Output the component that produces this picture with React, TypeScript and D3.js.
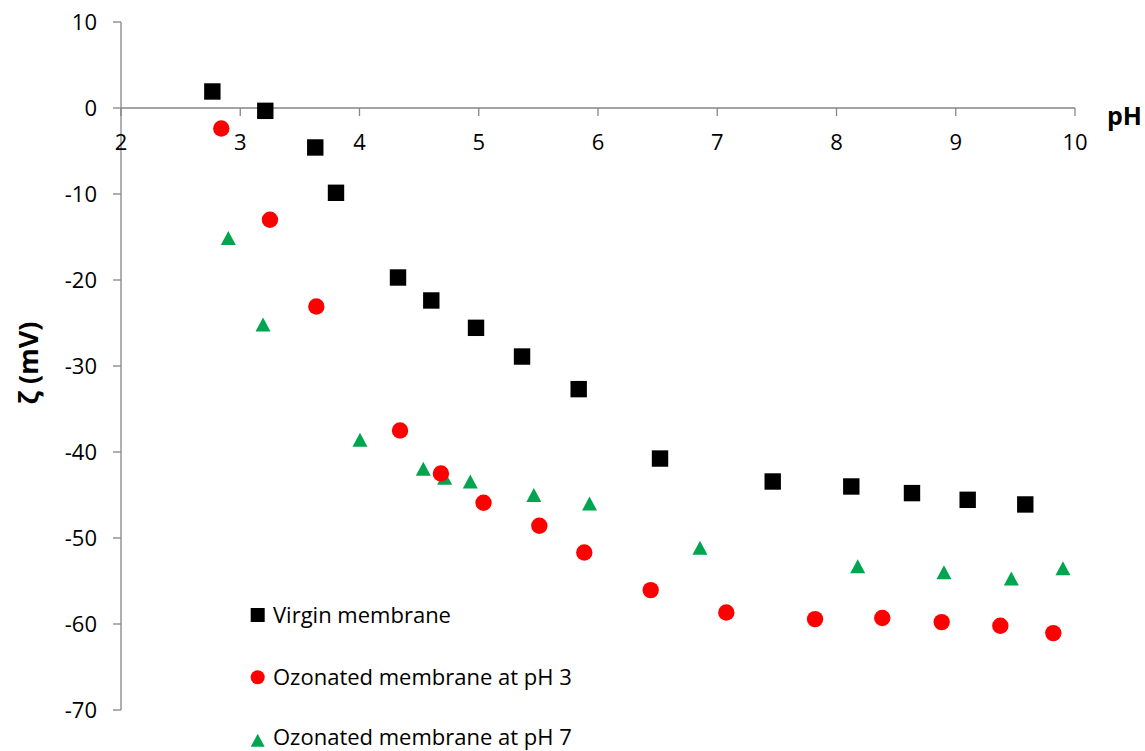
import React from "react";
import * as d3 from "d3";

const virginX = [2.766, 3.21, 3.629, 3.803, 4.323, 4.602, 4.977, 5.363, 5.838, 6.52, 7.465, 8.124, 8.633, 9.1, 9.583];
const virginY = [1.92, -0.33, -4.59, -9.86, -19.71, -22.38, -25.56, -28.9, -32.69, -40.76, -43.43, -44.01, -44.78, -45.56, -46.1];

const ozo3X = [2.841, 3.249, 3.638, 4.34, 4.683, 5.04, 5.508, 5.885, 6.442, 7.076, 7.82, 8.384, 8.882, 9.374, 9.818];
const ozo3Y = [-2.38, -13.0, -23.08, -37.5, -42.5, -45.9, -48.58, -51.69, -56.06, -58.66, -59.43, -59.31, -59.78, -60.21, -61.06];

const ozo7X = [2.9, 3.191, 4.004, 4.535, 4.714, 4.929, 5.462, 5.929, 6.855, 8.178, 8.901, 9.466, 9.899];
const ozo7Y = [-15.13, -25.17, -38.58, -41.95, -43.0, -43.43, -45.01, -46.0, -51.14, -53.29, -53.97, -54.72, -53.52];

const xTicks = [2, 3, 4, 5, 6, 7, 8, 9, 10];
const yTicks = [10, 0, -10, -20, -30, -40, -50, -60, -70];
const legendLabels = ["Virgin membrane", "Ozonated membrane at pH 3", "Ozonated membrane at pH 7"];

const FONT = "'Open Sans', 'DejaVu Sans', sans-serif";
const AXIS = "#868686";
const RED = "#FF0000";
const GREEN = "#00A550";

const x = d3.scaleLinear().domain([2, 10]).range([121, 1075]);
const y = d3.scaleLinear().domain([10, -70]).range([22, 710]);

function tri(cx: number, cy: number, w: number, h: number) {
  return `M${cx},${cy - h / 2}L${cx + w / 2},${cy + h / 2}L${cx - w / 2},${cy + h / 2}Z`;
}

export default function App() {
  const y0 = y(0);
  return (
    <svg width={1145} height={751} style={{ position: "absolute", left: 0, top: 0, background: "#fff" }}>
      {/* y axis */}
      <line x1={x(2)} x2={x(2)} y1={y(10)} y2={y(-70)} stroke={AXIS} strokeWidth={1.3} />
      {yTicks.map((t) => (
        <g key={"yt" + t}>
          <line x1={x(2) - 8} x2={x(2)} y1={y(t)} y2={y(t)} stroke={AXIS} strokeWidth={1.3} />
          <text x={97} y={y(t)} dy="0.36em" textAnchor="end" fontFamily={FONT} fontSize={22} fill="#000">
            {t}
          </text>
        </g>
      ))}
      {/* x axis at y=0 */}
      <line x1={x(2)} x2={x(10)} y1={y0} y2={y0} stroke={AXIS} strokeWidth={1.3} />
      {xTicks.map((t) => (
        <g key={"xt" + t}>
          <line x1={x(t)} x2={x(t)} y1={y0} y2={y0 + 8} stroke={AXIS} strokeWidth={1.3} />
          <text x={x(t)} y={150} textAnchor="middle" fontFamily={FONT} fontSize={22} fill="#000">
            {t}
          </text>
        </g>
      ))}
      <text x={1107} y={125} fontFamily={FONT} fontSize={25} fontWeight="bold" fill="#000">
        pH
      </text>
      <text
        transform={`translate(38,363) rotate(-90)`}
        textAnchor="middle"
        fontFamily={FONT}
        fontSize={27}
        fontWeight="bold"
        fill="#000"
      >
        ζ (mV)
      </text>

      {/* series */}
      {ozo7X.map((v, i) => (
        <path key={"g" + i} d={tri(x(v), y(ozo7Y[i]), 15, 14)} fill={GREEN} />
      ))}
      {ozo3X.map((v, i) => (
        <circle key={"r" + i} cx={x(v)} cy={y(ozo3Y[i])} r={8.2} fill={RED} />
      ))}
      {virginX.map((v, i) => (
        <rect key={"b" + i} x={x(v) - 8.2} y={y(virginY[i]) - 8.2} width={16.4} height={16.4} fill="#000" />
      ))}

      {/* legend */}
      <rect x={250.7} y={608} width={14} height={14} fill="#000" />
      <circle cx={257.7} cy={677.3} r={7} fill={RED} />
      <path d={tri(257.7, 740.3, 14, 13)} fill={GREEN} />
      {legendLabels.map((l, i) => (
        <text key={l} x={273} y={[622.5, 685, 745][i]} fontFamily={FONT} fontSize={22} fill="#000">
          {l}
        </text>
      ))}
    </svg>
  );
}
